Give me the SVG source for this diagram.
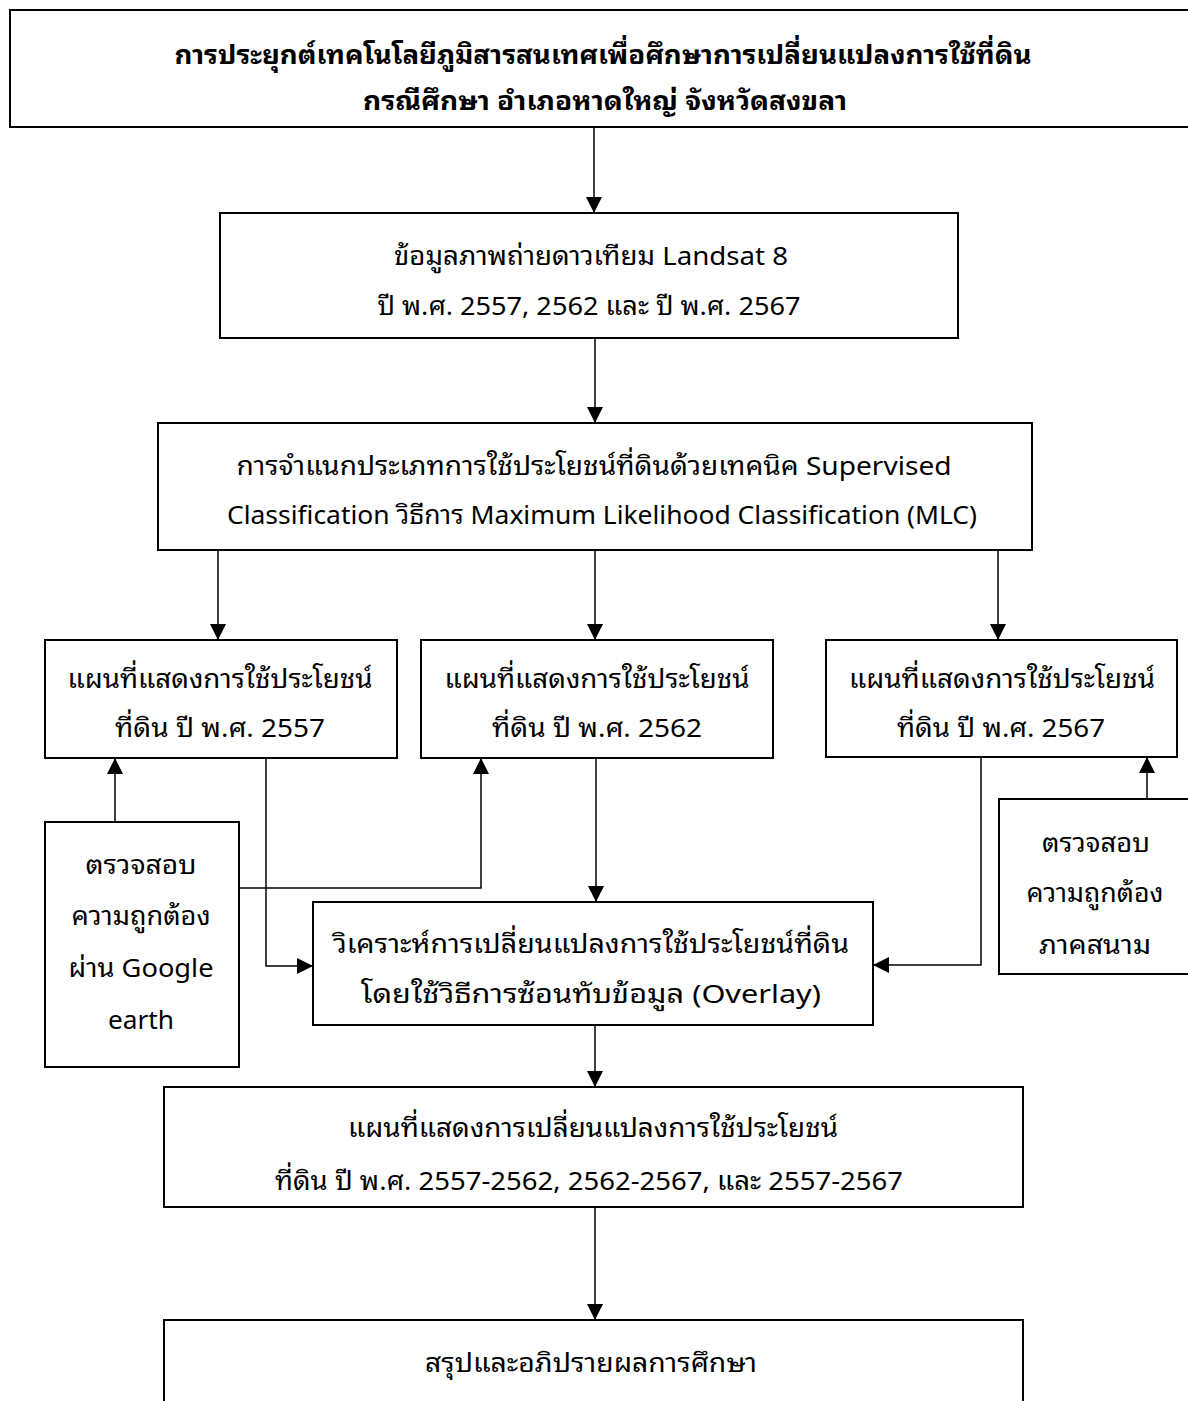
<svg xmlns="http://www.w3.org/2000/svg" width="1188" height="1401" viewBox="0 0 1188 1401">
<style>
.box{fill:#fff;stroke:#000;stroke-width:2}
.t{font-family:"Noto Sans Thai Looped","Noto Sans","Noto Sans Thai","DejaVu Sans",sans-serif;font-size:26px;fill:#000;text-anchor:middle;dominant-baseline:central}
.b{font-weight:bold;font-size:26px}
.c{fill:none;stroke:#000;stroke-width:1.5}
</style>
<defs>
<marker id="a" viewBox="0 0 16 16" refX="16" refY="8" markerWidth="16" markerHeight="16" markerUnits="userSpaceOnUse" orient="auto">
<path d="M0,0 L16,8 L0,16 Z" fill="#000"/>
</marker>
</defs>
<g id="connectors">
<path class="c" d="M594,127 V213" marker-end="url(#a)"/>
<path class="c" d="M595,338 V423" marker-end="url(#a)"/>
<path class="c" d="M218,550 V640" marker-end="url(#a)"/>
<path class="c" d="M595,550 V640" marker-end="url(#a)"/>
<path class="c" d="M998,550 V640" marker-end="url(#a)"/>
<path class="c" d="M115,822 V758" marker-end="url(#a)"/>
<path class="c" d="M239,888 H481 V758" marker-end="url(#a)"/>
<path class="c" d="M266,758 V966 H313" marker-end="url(#a)"/>
<path class="c" d="M596,758 V902" marker-end="url(#a)"/>
<path class="c" d="M981,758 V965 H873" marker-end="url(#a)"/>
<path class="c" d="M1147,799 V757" marker-end="url(#a)"/>
<path class="c" d="M595,1025 V1087" marker-end="url(#a)"/>
<path class="c" d="M595,1207 V1320" marker-end="url(#a)"/>
</g>
<g id="n-title">
<rect class="box" x="10" y="10" width="1190" height="117"/>
<text class="t b" x="603" y="52" textLength="857" lengthAdjust="spacingAndGlyphs">การประยุกต์เทคโนโลยีภูมิสารสนเทศเพื่อศึกษาการเปลี่ยนแปลงการใช้ที่ดิน</text>
<text class="t b" x="605" y="98" textLength="484" lengthAdjust="spacingAndGlyphs">กรณีศึกษา อำเภอหาดใหญ่ จังหวัดสงขลา</text>
</g>
<g id="n-landsat">
<rect class="box" x="220" y="213" width="738" height="125"/>
<text class="t" x="591" y="253" textLength="394" lengthAdjust="spacingAndGlyphs">ข้อมูลภาพถ่ายดาวเทียม Landsat 8</text>
<text class="t" x="589" y="303" textLength="423" lengthAdjust="spacingAndGlyphs">ปี พ.ศ. 2557, 2562 และ ปี พ.ศ. 2567</text>
</g>
<g id="n-classify">
<rect class="box" x="158" y="423" width="874" height="127"/>
<text class="t" x="594" y="463" textLength="715" lengthAdjust="spacingAndGlyphs">การจำแนกประเภทการใช้ประโยชน์ที่ดินด้วยเทคนิค Supervised</text>
<text class="t" x="602" y="512" textLength="750" lengthAdjust="spacingAndGlyphs">Classification วิธีการ Maximum Likelihood Classification (MLC)</text>
</g>
<g id="n-map2557">
<rect class="box" x="45" y="640" width="352" height="118"/>
<text class="t" x="220" y="676" textLength="305" lengthAdjust="spacingAndGlyphs">แผนที่แสดงการใช้ประโยชน์</text>
<text class="t" x="220" y="725" textLength="210" lengthAdjust="spacingAndGlyphs">ที่ดิน ปี พ.ศ. 2557</text>
</g>
<g id="n-map2562">
<rect class="box" x="421" y="640" width="352" height="118"/>
<text class="t" x="597" y="676" textLength="305" lengthAdjust="spacingAndGlyphs">แผนที่แสดงการใช้ประโยชน์</text>
<text class="t" x="597" y="725" textLength="210" lengthAdjust="spacingAndGlyphs">ที่ดิน ปี พ.ศ. 2562</text>
</g>
<g id="n-map2567">
<rect class="box" x="826" y="640" width="351" height="117"/>
<text class="t" x="1002" y="676" textLength="306" lengthAdjust="spacingAndGlyphs">แผนที่แสดงการใช้ประโยชน์</text>
<text class="t" x="1001" y="725" textLength="208" lengthAdjust="spacingAndGlyphs">ที่ดิน ปี พ.ศ. 2567</text>
</g>
<g id="n-check-google">
<rect class="box" x="45" y="822" width="194" height="245"/>
<text class="t" x="141" y="862" textLength="111" lengthAdjust="spacingAndGlyphs">ตรวจสอบ</text>
<text class="t" x="141" y="913" textLength="139" lengthAdjust="spacingAndGlyphs">ความถูกต้อง</text>
<text class="t" x="141" y="965" textLength="145" lengthAdjust="spacingAndGlyphs">ผ่าน Google</text>
<text class="t" x="141" y="1017" textLength="66" lengthAdjust="spacingAndGlyphs">earth</text>
</g>
<g id="n-analysis">
<rect class="box" x="313" y="902" width="560" height="123"/>
<text class="t" x="591" y="941" textLength="516" lengthAdjust="spacingAndGlyphs">วิเคราะห์การเปลี่ยนแปลงการใช้ประโยชน์ที่ดิน</text>
<text class="t" x="591" y="991" textLength="460" lengthAdjust="spacingAndGlyphs">โดยใช้วิธีการซ้อนทับข้อมูล (Overlay)</text>
</g>
<g id="n-check-field">
<rect class="box" x="999" y="799" width="200" height="175"/>
<text class="t" x="1096" y="840" textLength="108" lengthAdjust="spacingAndGlyphs">ตรวจสอบ</text>
<text class="t" x="1095" y="890" textLength="137" lengthAdjust="spacingAndGlyphs">ความถูกต้อง</text>
<text class="t" x="1095" y="942" textLength="112" lengthAdjust="spacingAndGlyphs">ภาคสนาม</text>
</g>
<g id="n-changemap">
<rect class="box" x="164" y="1087" width="859" height="120"/>
<text class="t" x="593" y="1125" textLength="490" lengthAdjust="spacingAndGlyphs">แผนที่แสดงการเปลี่ยนแปลงการใช้ประโยชน์</text>
<text class="t" x="589" y="1178" textLength="628" lengthAdjust="spacingAndGlyphs">ที่ดิน ปี พ.ศ. 2557-2562, 2562-2567, และ 2557-2567</text>
</g>
<g id="n-conclusion">
<rect class="box" x="164" y="1320" width="859" height="100"/>
<text class="t" x="591" y="1360" textLength="332" lengthAdjust="spacingAndGlyphs">สรุปและอภิปรายผลการศึกษา</text>
</g>
</svg>
